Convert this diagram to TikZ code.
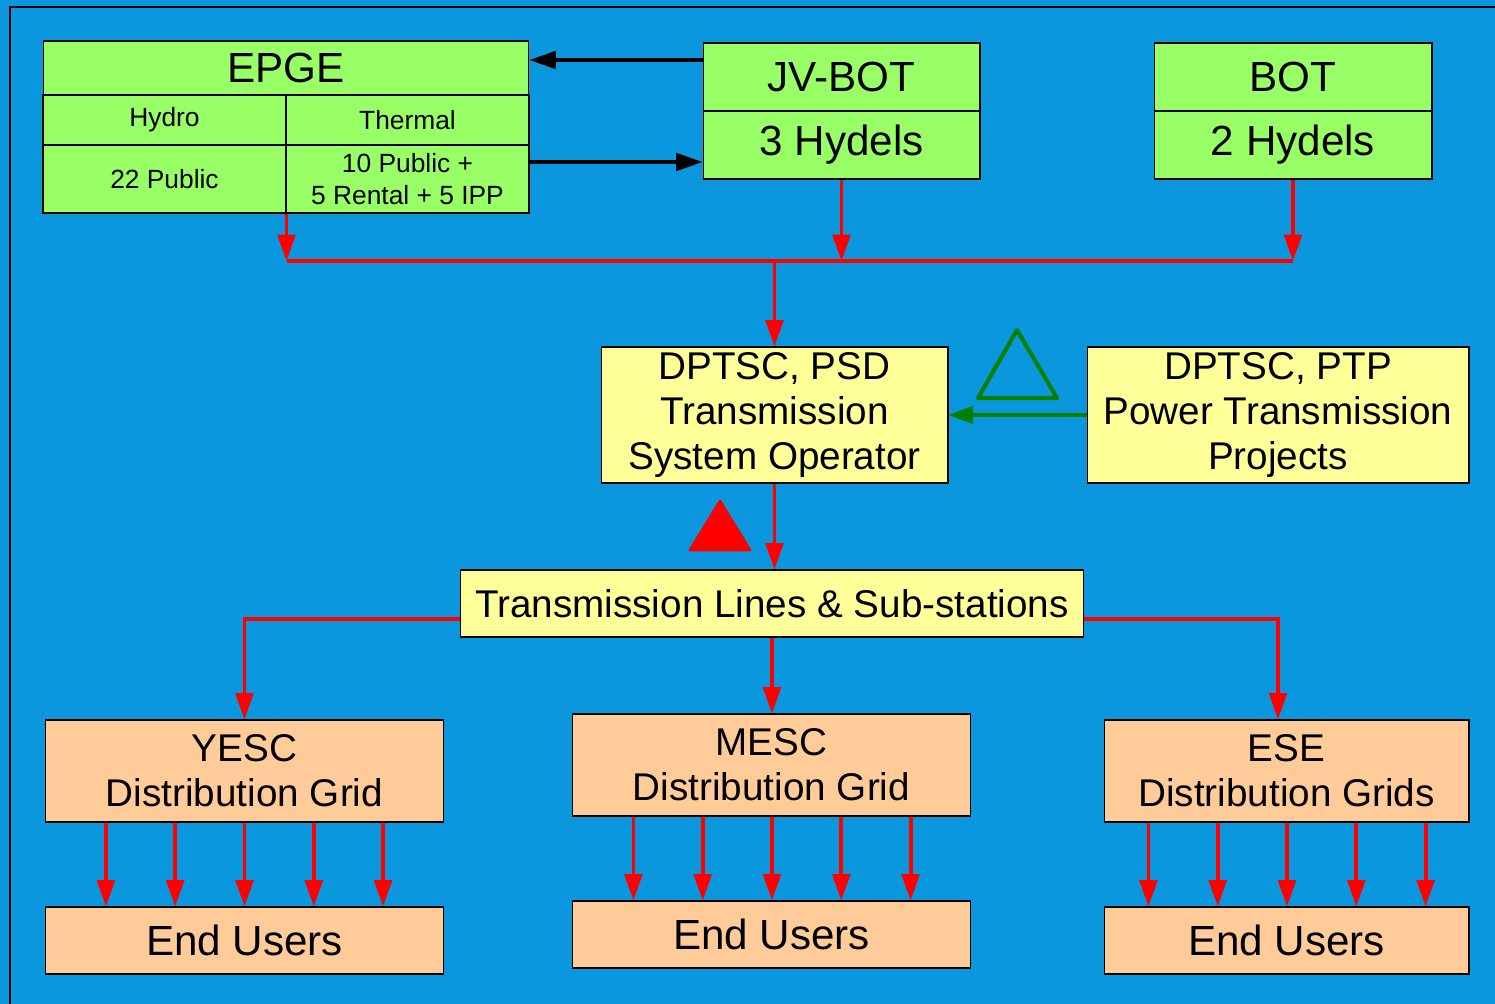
\documentclass[tikz,border=0pt]{standalone}
\usepackage{fontspec}
\setmainfont{Liberation Sans}
\usetikzlibrary{arrows.meta,calc}
\definecolor{bgblue}{RGB}{10,151,221}
\definecolor{boxgreen}{RGB}{153,255,102}
\definecolor{boxyellow}{RGB}{255,255,153}
\definecolor{boxorange}{RGB}{255,204,153}
\definecolor{arrgreen}{RGB}{0,128,0}
\begin{document}
\begin{tikzpicture}[x=0.02cm,y=-0.02cm,
  cell/.style={draw=black, line width=0.6pt, inner sep=0pt, align=center, text=black},
  gcell/.style={cell, fill=boxgreen},
  ycell/.style={cell, fill=boxyellow},
  ocell/.style={cell, fill=boxorange},
  bigtxt/.style={font=\fontsize{24}{28}\selectfont},
  midtxt/.style={font=\fontsize{22}{25.8}\selectfont},
  smalltxt/.style={font=\fontsize{15}{18}\selectfont},
  redarr/.style={draw=red, line width=2.2pt, -{Triangle[length=15pt,width=10pt]}},
  redline/.style={draw=red, line width=2.2pt},
  blackarr/.style={draw=black, line width=1.8pt, -{Triangle[length=15pt,width=10pt]}},
  greenarr/.style={draw=arrgreen, line width=1.8pt, -{Triangle[length=14pt,width=10pt]}}
]
\useasboundingbox (0,0) rectangle (1495,1004);
\fill[bgblue] (0,0) rectangle (1495,1004);
\draw[line width=1.2pt, black] (10,1004) -- (10,7) -- (1495,7);

% helper coordinates
\coordinate (y60) at (0,60);
\coordinate (y162) at (0,162);
\coordinate (bus) at (0,261);
\coordinate (y619) at (0,619);
\coordinate (x1278) at (1278,0);

% EPGE table
\node[gcell, bigtxt, minimum width=9.72cm, minimum height=1.08cm] (epge) at (286,68) {EPGE};
\node[gcell, smalltxt, minimum width=4.86cm, minimum height=1.0cm] (hydro) at (164.5,120) {Hydro};
\node[gcell, smalltxt, minimum width=4.86cm, minimum height=1.0cm] (thermal) at (407.5,120) {Thermal};
\node[gcell, smalltxt, minimum width=4.86cm, minimum height=1.36cm] (pub) at (164.5,179) {22 Public};
\node[gcell, smalltxt, minimum width=4.86cm, minimum height=1.36cm] (therm2) at (407.5,179) {10 Public +\\5 Rental + 5 IPP};

% JV-BOT
\node[gcell, bigtxt, minimum width=5.54cm, minimum height=1.36cm] (jvt) at (841.5,77) {JV-BOT};
\node[gcell, bigtxt, minimum width=5.54cm, minimum height=1.36cm] (jvb) at (841.5,145) {3 Hydels};

% BOT
\node[gcell, bigtxt, minimum width=5.56cm, minimum height=1.36cm] (bott) at (1293,77) {BOT};
\node[gcell, bigtxt, minimum width=5.56cm, minimum height=1.36cm] (botb) at (1293,145) {2 Hydels};

% DPTSC
\node[ycell, midtxt, minimum width=6.94cm, minimum height=2.72cm] (psd) at (774.5,415) {DPTSC, PSD\\Transmission\\System Operator};
\node[ycell, midtxt, minimum width=7.64cm, minimum height=2.72cm] (ptp) at (1278,415) {DPTSC, PTP\\Power Transmission\\Projects};

% Transmission lines
\node[ycell, midtxt, minimum width=12.48cm, minimum height=1.34cm] (trans) at (772,603.5) {Transmission Lines \& Sub-stations};

% Distribution
\node[ocell, midtxt, minimum width=7.98cm, minimum height=2.04cm] (yesc) at (244.5,771) {YESC\\Distribution Grid};
\node[ocell, midtxt, minimum width=7.98cm, minimum height=2.04cm] (mesc) at (771.5,765) {MESC\\Distribution Grid};
\node[ocell, midtxt, minimum width=7.3cm, minimum height=2.04cm] (ese) at (1286.5,771) {ESE\\Distribution Grids};

% End users
\node[ocell, bigtxt, minimum width=7.98cm, minimum height=1.34cm] (yeu) at (244.5,940.5) {End Users};
\node[ocell, bigtxt, minimum width=7.98cm, minimum height=1.34cm] (meu) at (771.5,934.5) {End Users};
\node[ocell, bigtxt, minimum width=7.3cm, minimum height=1.34cm] (eeu) at (1286.5,940.5) {End Users};

% black arrows
\draw[blackarr] (jvt.west |- y60) -- (epge.east |- y60);
\draw[blackarr] (therm2.east |- y162) -- (jvb.west |- y162);

% red bus
\draw[redarr] (pub.south east) -- (pub.south east |- bus);
\draw[redarr] (jvb.south) -- (jvb.south |- bus);
\draw[redarr] (botb.south) -- (botb.south |- bus);
\draw[redline] (pub.south east |- bus) -- (botb.south |- bus);
\draw[redarr] (psd.north |- bus) -- (psd.north);

% green arrow and triangle
\draw[greenarr] (ptp.west) -- (psd.east);
\draw[arrgreen, line width=2.3pt, line join=round] (1017,330) -- (1057,398) -- (978,398) -- cycle;

% red triangle
\fill[red, draw=red, line width=1.5pt, line join=round] (720,501) -- (750,550) -- (690,550) -- cycle;

% psd to trans
\draw[redarr] (psd.south) -- (psd.south |- trans.north);

% trans to distribution
\draw[redarr] (trans.west |- y619) -| (yesc.north);
\draw[redarr] (trans.south) -- (trans.south |- mesc.north);
\draw[redarr] (trans.east |- y619) -| (ese.north -| x1278);

% distribution to end users
\foreach \d in {-2,...,2} {
  \draw[redarr] ([xshift={\d*1.386cm}]yesc.south) -- ([xshift={\d*1.386cm}]yeu.north);
  \draw[redarr] ([xshift={\d*1.386cm+0.01cm}]mesc.south) -- ([xshift={\d*1.386cm+0.01cm}]meu.north);
  \draw[redarr] ([xshift={\d*1.386cm+0.01cm}]ese.south) -- ([xshift={\d*1.386cm+0.01cm}]eeu.north);
}
\end{tikzpicture}
\end{document}
